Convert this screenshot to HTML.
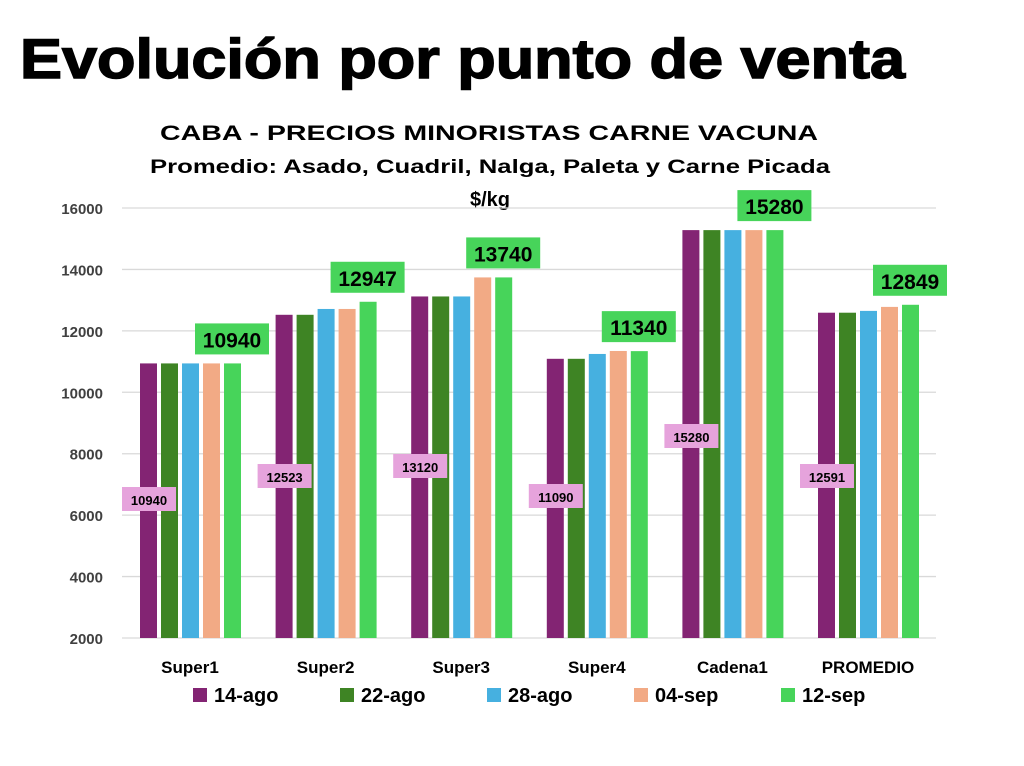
<!DOCTYPE html>
<html><head><meta charset="utf-8"><style>
body{margin:0;background:#fff;width:1024px;height:761px;overflow:hidden;font-family:"Liberation Sans",sans-serif}
</style></head><body>
<svg id="c" width="1024" height="761" xmlns="http://www.w3.org/2000/svg">
<text x="20" y="78" font-size="56" font-weight="bold" fill="#000" stroke="#000" stroke-width="1.5" textLength="885" lengthAdjust="spacingAndGlyphs">Evolución por punto de venta</text>
<text x="160" y="140" font-size="21" font-weight="bold" textLength="658" lengthAdjust="spacingAndGlyphs">CABA -  PRECIOS MINORISTAS CARNE VACUNA</text>
<text x="150" y="173" font-size="19" font-weight="bold" textLength="680" lengthAdjust="spacingAndGlyphs">Promedio: Asado, Cuadril, Nalga, Paleta y Carne Picada</text>
<text x="490" y="206" font-size="20" font-weight="bold" text-anchor="middle">$/kg</text>
<g id="grid"></g><g id="bars"></g><g id="labels"></g><g id="legend"></g>
</svg>
<script>
const categories=["Super1","Super2","Super3","Super4","Cadena1","PROMEDIO"];
const seriesNames=["14-ago","22-ago","28-ago","04-sep","12-sep"];
const s1=[10940,12523,13120,11090,15280,12591];
const s2=[10940,12523,13120,11090,15280,12591];
const s3=[10940,12713,13120,11248,15280,12650];
const s4=[10940,12713,13740,11345,15280,12780];
const s5=[10940,12947,13740,11340,15280,12849];
const yTicks=[2000,4000,6000,8000,10000,12000,14000,16000];
const colors=["#832473","#3e8424","#46b0e0","#f2aa85","#47d45a"];
const series=[s1,s2,s3,s4,s5];
const NS="http://www.w3.org/2000/svg";
const y=v=>638-(v-2000)*430/14000;
const gx=i=>190+i*135.6;
function mk(t,a,p,txt){const e=document.createElementNS(NS,t);for(const k in a)e.setAttribute(k,a[k]);if(txt!==undefined)e.textContent=txt;document.getElementById(p).appendChild(e);return e;}
yTicks.forEach(v=>{
 const l=mk("line",{x1:122,x2:936,y1:y(v),y2:y(v),stroke:"#d9d9d9","stroke-width":1.3},"grid");
 
 
 const t=mk("text",{x:103,y:y(v)+6,"font-size":15,"font-weight":"bold","text-anchor":"end",fill:"#404040"},"grid",v);
 
 
});
categories.forEach((c,i)=>{
 series.forEach((s,j)=>{
  const x=gx(i)-50+j*21;
  const r=mk("rect",{x:x,y:y(s[i]),width:17,height:638-y(s[i]),fill:colors[j]},"bars");
  
  
 });
 const t=mk("text",{x:gx(i),y:673,"font-size":17,"font-weight":"bold","text-anchor":"middle"},"labels",c);
 
 
 const py=[500,477,467,497,437,477][i];
 const pb=mk("rect",{x:gx(i)-68,y:py-13,width:54,height:24,fill:"#e6a3dc"},"labels");
 
 
 const pt=mk("text",{x:gx(i)-41,y:py+5,"font-size":13,"font-weight":"bold","text-anchor":"middle"},"labels",s1[i]);
 
 
 const lx=gx(i)+42, ly=y(s5[i])-24;
 const gb=mk("rect",{x:lx-37,y:ly-16,width:74,height:31,fill:"#47d45a"},"labels");
 
 
 const gt=mk("text",{x:lx,y:ly+8,"font-size":21,"font-weight":"bold","text-anchor":"middle"},"labels",s5[i]);
 
 
});
seriesNames.forEach((n,j)=>{
 const x=193+j*147;
 const r=mk("rect",{x:x,y:688,width:14,height:14,fill:colors[j]},"legend");
 
 
 const t=mk("text",{x:x+21,y:702,"font-size":20,"font-weight":"bold"},"legend",n);
 
 
});
</script>
</body></html>
